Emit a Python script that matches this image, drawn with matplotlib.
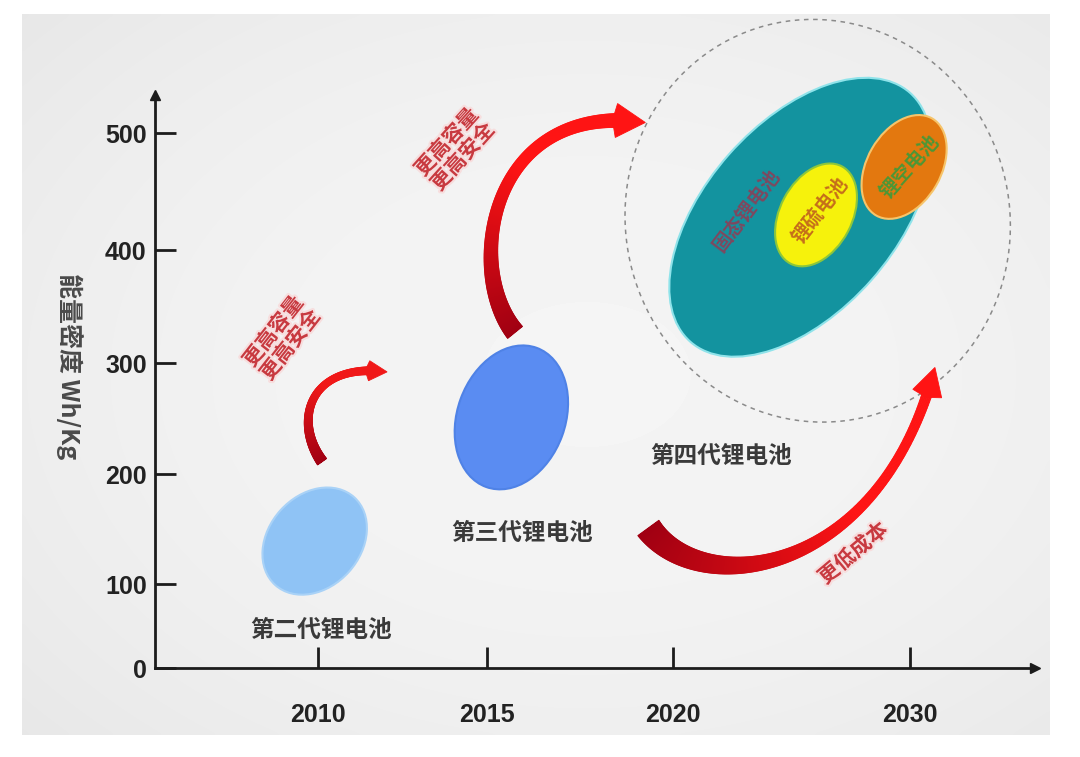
import numpy as np
import matplotlib
matplotlib.use("Agg")
import matplotlib.pyplot as plt
from matplotlib.patches import Ellipse, Polygon
from matplotlib.collections import PolyCollection
from matplotlib.transforms import ScaledTranslation
import matplotlib.patheffects as pe

plt.rcParams['font.family'] = ['Noto Sans CJK SC', 'DejaVu Sans']

# ---- data (year, energy density Wh/kg) ----
years = [2010, 2015, 2020, 2030]
year_labels = ["2010", "2015", "2020", "2030"]
wh_ticks = [0, 100, 200, 300, 400, 500]

gen_labels = ["第二代锂电池", "第三代锂电池", "第四代锂电池"]
gen_label_year = [2010.1, 2015.95, 2022.0]
gen_label_wh = [45, 146, 216]

blob_names = ["第二代", "第三代", "固态锂电池", "锂硫电池", "锂空电池"]
blob_year = [2009.9, 2015.65, 2025.36, 2026.03, 2029.75]
blob_wh = [139, 251, 428, 430, 471]

scope_year, scope_wh = 2026.1, 425

# inner labels of the 4th generation blobs
inner_labels = ["固态锂电池", "锂硫电池", "锂空电池"]
inner_year = [2023.1, 2026.2, 2030.0]
inner_wh = [434, 434, 471]

# arrows: cubic bezier control points (year, Wh/kg)
arrow_small = [(2010.12, 211), (2009.23, 249), (2009.76, 301), (2012.04, 292)]
arrow_big = [(2015.75, 327), (2014.30, 383), (2015.05, 528), (2019.25, 509)]
arrow_low = [(2019.33, 151), (2021.14, 81), (2028.73, 104), (2031.05, 296)]

red_notes = ["更高容量\n更高安全", "更高容量\n更高安全", "更低成本"]
red_year = [2008.93, 2014.04, 2027.6]
red_wh = [322, 486, 128]

# ---- styles ----
blob_w = [118, 148, 332, 110, 112]
blob_h = [92, 108, 190, 72, 74]
blob_ang = [48, 70, 48.6, 62, 60]
blob_fc = ["#8fc3f5", "#5a8cf2", "#13939f", "#f6f20c", "#e3780f"]
blob_ec = ["#a9d2f7", "#4f82e6", "#8fe3ea", "#8cc63c", "#f6c46a"]
inner_col = ["#8a4058", "#c0601c", "#3d9a3a"]
inner_rot = [53, 52, 48]
red_rot = [52, 48, 40]

# ---- figure ----
fig = plt.figure(figsize=(10.8, 7.57), dpi=100)
fig.patch.set_facecolor("white")

# grey background panel with soft radial gradient
bg = fig.add_axes([22 / 1080, 22 / 757, 1028 / 1080, 721 / 757], zorder=0)
gy, gx = np.mgrid[0:1:200j, 0:1:280j]
r2 = ((gx - 0.55) / 0.65) ** 2 + ((gy - 0.5) / 0.65) ** 2
bg.imshow(np.clip(0.958 - 0.04 * r2, 0.89, 1), cmap="gray", vmin=0, vmax=1,
          aspect="auto", extent=[0, 1, 0, 1], interpolation="bicubic")
bg.axis("off")

ax = fig.add_axes([155 / 1080, 89 / 757, 880 / 1080, 573 / 757], zorder=1)
ax.patch.set_alpha(0)

# the original drawing uses uneven spacing on both axes
k_year = [1990, 2010, 2015, 2020, 2030, 2050]
k_xu = [-20, 0, 5, 10.5, 17.5, 31.52]
ax.set_xscale("function", functions=(lambda v: np.interp(v, k_year, k_xu),
                                      lambda u: np.interp(u, k_xu, k_year)))
k_wh = [-100, 0, 100, 200, 300, 400, 500, 700]
k_yu = [-84, 0, 84, 194, 305, 418, 535, 769]
ax.set_yscale("function", functions=(lambda v: np.interp(v, k_wh, k_yu),
                                      lambda u: np.interp(u, k_yu, k_wh)))
ax.set_xlim(2005.18, 2035.27)
ax.set_ylim(0, 532.5)

for s in ["top", "right"]:
    ax.spines[s].set_visible(False)
for s in ["left", "bottom"]:
    ax.spines[s].set_linewidth(2.0)
    ax.spines[s].set_color("#1c1c1c")
ax.plot(0, 1, marker="^", ms=7, color="#1c1c1c", transform=ax.transAxes, clip_on=False)
ax.plot(1, 0, marker=">", ms=7, color="#1c1c1c", transform=ax.transAxes, clip_on=False)

ax.set_xticks(years)
ax.set_xticklabels(year_labels)
ax.set_yticks(wh_ticks)
ax.set_yticklabels([str(v) for v in wh_ticks])
ax.minorticks_off()
ax.tick_params(axis="x", direction="in", length=15, width=2, color="#1c1c1c", pad=25)
ax.tick_params(axis="y", direction="in", length=15, width=2, color="#1c1c1c", pad=6)
for lab in ax.get_xticklabels() + ax.get_yticklabels():
    lab.set_fontfamily("Liberation Sans")
    lab.set_fontweight("bold")
    lab.set_fontsize(18)
    lab.set_color("#222222")

ax.text(-0.097, 0.527, "能量密度 Wh/Kg", transform=ax.transAxes, rotation=-90,
        ha="center", va="center", fontsize=18, color="#4a4a4a", fontweight="bold")


def blob(x, y, w, h, ang, **kw):
    tr = fig.dpi_scale_trans + ScaledTranslation(x, y, ax.transData)
    e = Ellipse((0, 0), w / 100, h / 100, angle=ang, transform=tr, clip_on=False, **kw)
    ax.add_patch(e)
    return e


# dashed scope of 4th generation
blob(scope_year, scope_wh, 404, 384, 105, fill=False, ec="#8a8a8a", lw=1.1,
     ls=(0, (3, 3)), zorder=2)

for i in range(len(blob_names)):
    blob(blob_year[i], blob_wh[i], blob_w[i], blob_h[i], blob_ang[i],
         fc=blob_fc[i], ec=blob_ec[i], lw=1.5, zorder=3 + i * 0.1)

for i, t in enumerate(inner_labels):
    ax.text(inner_year[i], inner_wh[i], t, rotation=inner_rot[i], ha="center",
            va="center", fontsize=14, fontweight="bold", color=inner_col[i],
            rotation_mode="anchor", zorder=5, alpha=0.9, clip_on=False)

for i, t in enumerate(gen_labels):
    ax.text(gen_label_year[i], gen_label_wh[i], t, ha="center", va="center",
            fontsize=17, fontweight="bold", color="#3a3a3a", zorder=5)


def curved_arrow(pts, w_tail, w_mid, w_neck, head_w, head_len, c0, c1):
    P = ax.transData.transform(np.array(pts, dtype=float))
    t = np.linspace(0, 1, 400)[:, None]
    B = ((1 - t) ** 3) * P[0] + 3 * (1 - t) ** 2 * t * P[1] \
        + 3 * (1 - t) * t ** 2 * P[2] + t ** 3 * P[3]
    s = np.concatenate([[0], np.cumsum(np.hypot(*np.diff(B, axis=0).T))])
    cut = np.searchsorted(s, s[-1] - head_len)
    body = B[:cut + 1]
    u = s[:cut + 1] / s[cut]
    w = w_tail * (1 - u) ** 2 + 2 * w_mid * u * (1 - u) + w_neck * u ** 2
    d = np.gradient(body, axis=0)
    d /= np.hypot(d[:, 0], d[:, 1])[:, None]
    n = np.column_stack([-d[:, 1], d[:, 0]])
    left = body + n * w[:, None] / 2
    right = body - n * w[:, None] / 2
    inv = ax.transData.inverted()
    c0 = np.array(matplotlib.colors.to_rgb(c0))
    c1 = np.array(matplotlib.colors.to_rgb(c1))
    polys, cols = [], []
    for i in range(len(body) - 1):
        quad = np.array([left[i], left[i + 1], right[i + 1], right[i]])
        polys.append(inv.transform(quad))
        f = min(1.0, u[i] * 1.6)
        cols.append(c0 * (1 - f) + c1 * f)
    pc = PolyCollection(polys, facecolors=cols, edgecolors=cols, linewidths=0.6,
                        zorder=6, clip_on=False)
    ax.add_collection(pc)
    tip = B[-1]
    base = body[-1]
    dh = (tip - base) / np.hypot(*(tip - base))
    nh = np.array([-dh[1], dh[0]])
    head = np.array([base + nh * head_w / 2, tip, base - nh * head_w / 2,
                     base - dh * 4])
    ax.add_patch(Polygon(inv.transform(head), closed=True, fc=c1, ec=c1, lw=0.6,
                         zorder=6, clip_on=False))


curved_arrow(arrow_small, 11, 5, 8, 20, 18, "#a00012", "#f01818")
curved_arrow(arrow_big, 19, 7, 14, 34, 30, "#a00012", "#ff1414")
curved_arrow(arrow_low, 26, 5, 10, 30, 28, "#a00012", "#ff1414")

for i, t in enumerate(red_notes):
    ax.text(red_year[i], red_wh[i], t, rotation=red_rot[i], ha="center", va="center",
            fontsize=15, fontweight="bold", color="#c83a40", linespacing=1.05,
            zorder=7, path_effects=[pe.withStroke(linewidth=3, foreground="#f7dede")])

fig.savefig("out.png", dpi=100)
